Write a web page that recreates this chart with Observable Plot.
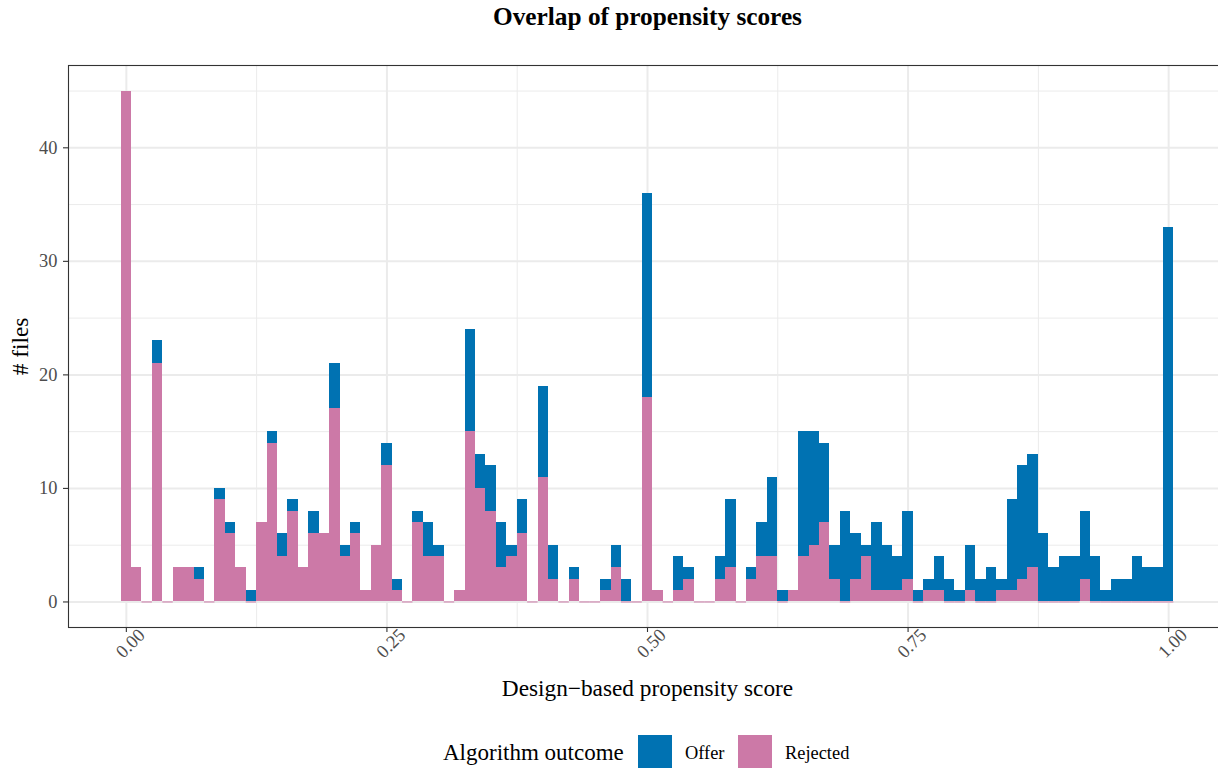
<!DOCTYPE html>
<html>
<head>
<meta charset="utf-8">
<script src="https://cdn.jsdelivr.net/npm/d3@7"></script>
<script src="https://cdn.jsdelivr.net/npm/@observablehq/plot@0.6"></script>
<style>
  html, body { margin: 0; padding: 0; background: white; overflow: hidden; }
  #wrap { width: 1218px; height: 768px; font-family: "Liberation Serif", "Times New Roman", serif; }
  #legend { position: relative; height: 38px; width: 1218px; }
  #legend span { position: absolute; white-space: nowrap; color: #000; }
  #legend .key { position: absolute; width: 34px; height: 33px; }
</style>
</head>
<body>
<div id="wrap">
  <div id="chart"></div>
  <div id="legend"></div>
</div>
<script>
// ---- Data (bin width 0.01) ----
const binCenters = [
  0.00,0.01,0.02,0.03,0.04,0.05,0.06,0.07,0.08,0.09,
  0.10,0.11,0.12,0.13,0.14,0.15,0.16,0.17,0.18,0.19,
  0.20,0.21,0.22,0.23,0.24,0.25,0.26,0.27,0.28,0.29,
  0.30,0.31,0.32,0.33,0.34,0.35,0.36,0.37,0.38,0.39,
  0.40,0.41,0.42,0.43,0.44,0.45,0.46,0.47,0.48,0.49,
  0.50,0.51,0.52,0.53,0.54,0.55,0.56,0.57,0.58,0.59,
  0.60,0.61,0.62,0.63,0.64,0.65,0.66,0.67,0.68,0.69,
  0.70,0.71,0.72,0.73,0.74,0.75,0.76,0.77,0.78,0.79,
  0.80,0.81,0.82,0.83,0.84,0.85,0.86,0.87,0.88,0.89,
  0.90,0.91,0.92,0.93,0.94,0.95,0.96,0.97,0.98,0.99,
  1.00
];
const binWidth = 0.01;

const rejectedCounts = [
  45,3,0,21,0,3,3,2,0,9,
  6,3,0,7,14,4,8,3,6,6,
  17,4,6,1,5,12,1,0,7,4,
  4,0,1,15,10,8,3,4,6,0,
  11,2,0,2,0,0,1,3,0,0,
  18,1,0,1,2,0,0,2,3,0,
  2,4,4,0,1,4,5,7,2,0,
  2,4,1,1,1,2,0,1,1,0,
  0,1,0,0,1,1,2,3,0,0,
  0,0,2,0,0,0,0,0,0,0,
  0
];
const offerCounts = [
  0,0,0,2,0,0,0,1,0,1,
  1,0,1,0,1,2,1,0,2,0,
  4,1,1,0,0,2,1,0,1,3,
  1,0,0,9,3,4,4,1,3,0,
  8,3,0,1,0,0,1,2,2,0,
  18,0,0,3,1,0,0,2,6,0,
  1,3,7,1,0,11,10,7,3,8,
  4,1,6,4,3,6,1,1,3,2,
  1,4,2,3,1,8,10,10,6,3,
  4,4,6,4,1,2,2,4,3,3,
  33
];

const outcomes = ["Offer", "Rejected"];
const outcomeColors = ["#0072B2", "#CC79A7"];

const yTicks = [0, 10, 20, 30, 40];
const yMinorTicks = [5, 15, 25, 35, 45];
const xTicks = [0, 0.25, 0.5, 0.75, 1];
const xMinorTicks = [0.125, 0.375, 0.625, 0.875];
const xTickLabels = ["0.00", "0.25", "0.50", "0.75", "1.00"];

const titleText = "Overlap of propensity scores";
const xTitle = "Design\u2212based propensity score";
const yTitle = "# files";
const legendTitle = "Algorithm outcome";

// ---- Build stacked rows (Rejected at bottom, Offer on top) ----
const rows = [];
binCenters.forEach((c, i) => {
  const r = rejectedCounts[i], o = offerCounts[i];
  rows.push({x1: c - binWidth / 2, x2: c + binWidth / 2, y1: 0, y2: r, outcome: "Rejected"});
  rows.push({x1: c - binWidth / 2, x2: c + binWidth / 2, y1: r, y2: r + o, outcome: "Offer"});
});
const barRows = rows.filter(d => d.y2 > d.y1);
const zeroRows = rows.filter(d => d.outcome === "Rejected" && d.y2 === d.y1);

const grid = "#EBEBEB";
const font = "Liberation Serif";

const chart = Plot.plot({
  width: 1218,
  height: 730,
  marginTop: 65,
  marginLeft: 68,
  marginRight: -8,
  marginBottom: 103,
  style: {fontFamily: font, fontSize: "18.4px", background: "white"},
  x: {domain: [-0.0555, 1.0555]},
  y: {domain: [-2.25, 47.25]},
  color: {domain: outcomes, range: outcomeColors},
  marks: [
    Plot.gridY(yMinorTicks, {stroke: grid, strokeOpacity: 1, strokeWidth: 1}),
    Plot.gridX(xMinorTicks, {stroke: grid, strokeOpacity: 1, strokeWidth: 1}),
    Plot.gridY(yTicks, {stroke: grid, strokeOpacity: 1, strokeWidth: 2}),
    Plot.gridX(xTicks, {stroke: grid, strokeOpacity: 1, strokeWidth: 2}),
    Plot.rect(barRows, {x1: "x1", x2: "x2", y1: "y1", y2: "y2", fill: "outcome", shapeRendering: "crispEdges"}),
    Plot.ruleY(zeroRows, {x1: "x1", x2: "x2", y: "y1", stroke: outcomeColors[1], strokeWidth: 1}),
    Plot.frame({stroke: "#333333", strokeWidth: 1.1}),
    Plot.axisY({ticks: yTicks, tickSize: 5, tickPadding: 6, stroke: "#333333", strokeWidth: 1.1,
      fill: "#4D4D4D", fontSize: 18.4, label: null}),
    Plot.axisX({ticks: xTicks, tickSize: 5, stroke: "#333333", strokeWidth: 1.1,
      tickFormat: () => "", label: null}),
    Plot.text(xTicks, {x: d => d, text: (d, i) => xTickLabels[i], frameAnchor: "bottom",
      dy: 16, dx: 4, rotate: -45, textAnchor: "middle", lineAnchor: "middle",
      fill: "#4D4D4D", fontSize: 18.4}),
    Plot.text([xTitle], {text: d => d, frameAnchor: "bottom", dy: 68,
      lineAnchor: "bottom", fontSize: 23.3, fill: "black"}),
    Plot.text([yTitle], {text: d => d, frameAnchor: "left", dx: -48, rotate: -90,
      textAnchor: "middle", lineAnchor: "middle", fontSize: 23.3, fill: "black"}),
    Plot.text([titleText], {text: d => d, frameAnchor: "top", dy: -41,
      lineAnchor: "bottom", fontSize: 25.3, fontWeight: "bold", fill: "black"})
  ]
});
document.getElementById("chart").appendChild(chart);

// ---- Legend (HTML, below the SVG) ----
const legend = document.getElementById("legend");
const lt = document.createElement("span");
lt.textContent = legendTitle;
lt.style.cssText = "left:443px;top:11px;font-size:23px;line-height:23px;";
legend.appendChild(lt);
const keyLefts = [638, 738];
const labelLefts = [685, 785];
outcomes.forEach((o, i) => {
  const k = document.createElement("div");
  k.className = "key";
  k.style.left = keyLefts[i] + "px";
  k.style.top = "5px";
  k.style.background = outcomeColors[i];
  legend.appendChild(k);
  const s = document.createElement("span");
  s.textContent = o;
  s.style.cssText = `left:${labelLefts[i]}px;top:14px;font-size:18.4px;line-height:18.4px;`;
  legend.appendChild(s);
});
</script>
</body>
</html>
